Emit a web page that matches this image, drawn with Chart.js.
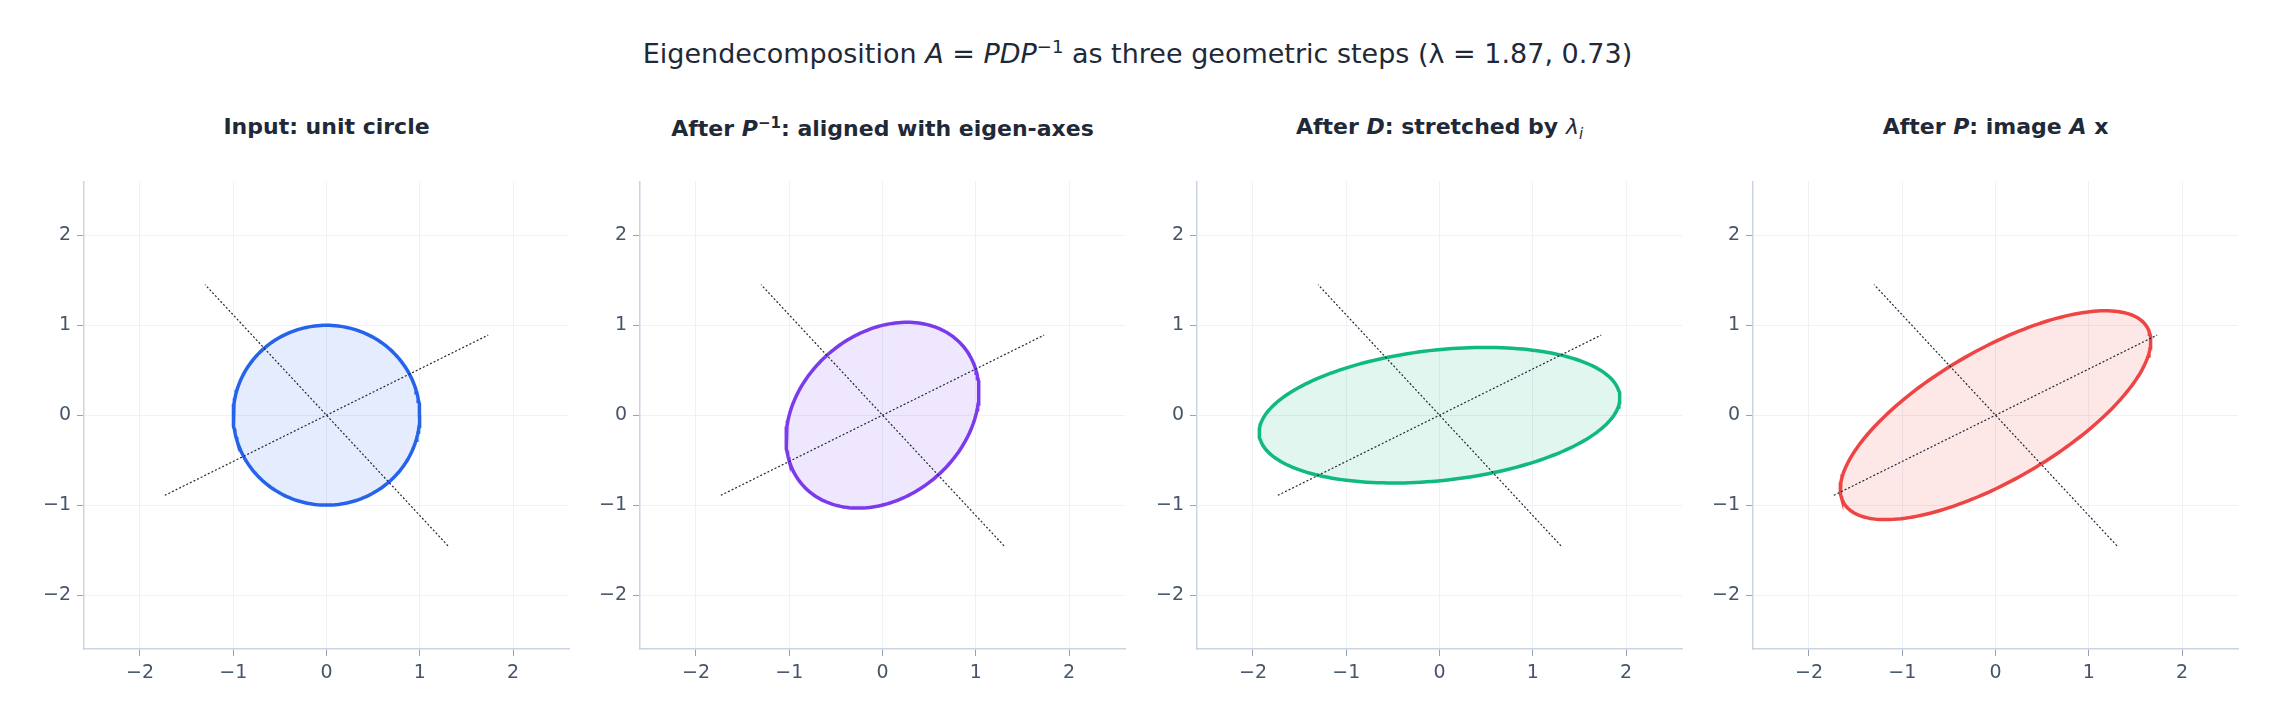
<!DOCTYPE html>
<html><head><meta charset="utf-8">
<script src="https://cdn.jsdelivr.net/npm/chart.js@4"></script>
<style>
body{margin:0;width:2275px;height:722px;background:#fff;font-family:"DejaVu Sans",sans-serif;position:relative;overflow:hidden}
#title{position:absolute;top:36px;left:0;width:2275px;text-align:center;font-size:27px;color:#1f2937}
.sub{position:absolute;top:114px;width:485px;text-align:center;font-size:22px;font-weight:bold;color:#1f2937}
canvas{position:absolute}
</style></head><body>
<div id="title">Eigendecomposition <i>A</i> = <i>PDP</i><sup style="font-size:18px">−1</sup> as three geometric steps (λ = 1.87, 0.73)</div>
<script>
const lambdas = [1.87, 0.73];
const eigvec1 = [0.889, 0.457];
const eigvec2 = [-0.668, 0.745];
const axisHalfLen = 1.95;
const panelTitles = ['Input: unit circle','After <i>P</i><sup style="font-size:15px">−1</sup>: aligned with eigen-axes','After <i>D</i>: stretched by <i style="font-weight:normal">λ<sub style="font-size:15px">i</sub></i>','After <i>P</i>: image <i>A</i> <b>x</b>'];
const colors = ['#2563eb','#7c3aed','#10b981','#ef4444'];
const fills = ['rgba(37,99,235,0.12)','rgba(124,58,237,0.12)','rgba(16,185,129,0.13)','rgba(239,68,68,0.13)'];
const tickVals = [-2,-1,0,1,2];
const lefts = [84,640,1197,1753];

const P=[[eigvec1[0],eigvec2[0]],[eigvec1[1],eigvec2[1]]];
const det=P[0][0]*P[1][1]-P[0][1]*P[1][0];
const Pi=[[P[1][1]/det,-P[0][1]/det],[-P[1][0]/det,P[0][0]/det]];
const mul=(M,p)=>({x:M[0][0]*p.x+M[0][1]*p.y,y:M[1][0]*p.x+M[1][1]*p.y});
const circle=[];for(let i=0;i<=200;i++){const t=2*Math.PI*i/200;circle.push({x:Math.cos(t),y:Math.sin(t)});}
const s1=circle;
const s2=s1.map(p=>mul(Pi,p));
const s3=s2.map(p=>({x:p.x*lambdas[0],y:p.y*lambdas[1]}));
const s4=s3.map(p=>mul(P,p));
const shapes=[s1,s2,s3,s4];
const ax1=[{x:-axisHalfLen*eigvec1[0],y:-axisHalfLen*eigvec1[1]},{x:axisHalfLen*eigvec1[0],y:axisHalfLen*eigvec1[1]}];
const ax2=[{x:-axisHalfLen*eigvec2[0],y:-axisHalfLen*eigvec2[1]},{x:axisHalfLen*eigvec2[0],y:axisHalfLen*eigvec2[1]}];

shapes.forEach((s,i)=>{
  const d=document.createElement('div');d.className='sub';d.style.left=lefts[i]+'px';d.innerHTML=panelTitles[i];document.body.appendChild(d);
  const c=document.createElement('canvas');
  c.width=550;c.height=537;
  c.style.left=(lefts[i]-60)+'px';c.style.top='164px';c.style.width='550px';c.style.height='537px';
  document.body.appendChild(c);
  const scale=(pos)=>({type:'linear',position:pos,min:-2.6,max:2.6,
    afterBuildTicks:a=>{a.ticks=tickVals.map(v=>({value:v}));},
    afterFit:a=>{if(pos==='left')a.width=60;else a.height=52;},
    ticks:{color:'#475569',font:{size:19,family:'DejaVu Sans'},padding:6,callback:v=>String(v).replace('-','−')},
    grid:{color:'#eef2f6',tickColor:'#94a3b8',tickLength:7,drawTicks:true},
    border:{color:'#cbd5e1',width:1.5}});
  new Chart(c,{type:'scatter',data:{datasets:[
    {data:ax1,showLine:true,borderColor:'#1f2937',borderWidth:1.2,borderDash:[2,2],pointRadius:0},
    {data:ax2,showLine:true,borderColor:'#1f2937',borderWidth:1.2,borderDash:[2,2],pointRadius:0},
    {data:s,showLine:true,borderColor:colors[i],borderWidth:3.5,backgroundColor:fills[i],fill:'shape',pointRadius:0}
  ]},options:{responsive:false,animation:false,devicePixelRatio:1,
    layout:{padding:{top:0,right:5,left:0,bottom:0}},
    plugins:{legend:{display:false},tooltip:{enabled:false}},
    scales:{x:scale('bottom'),y:scale('left')}}});
});
</script></body></html>
